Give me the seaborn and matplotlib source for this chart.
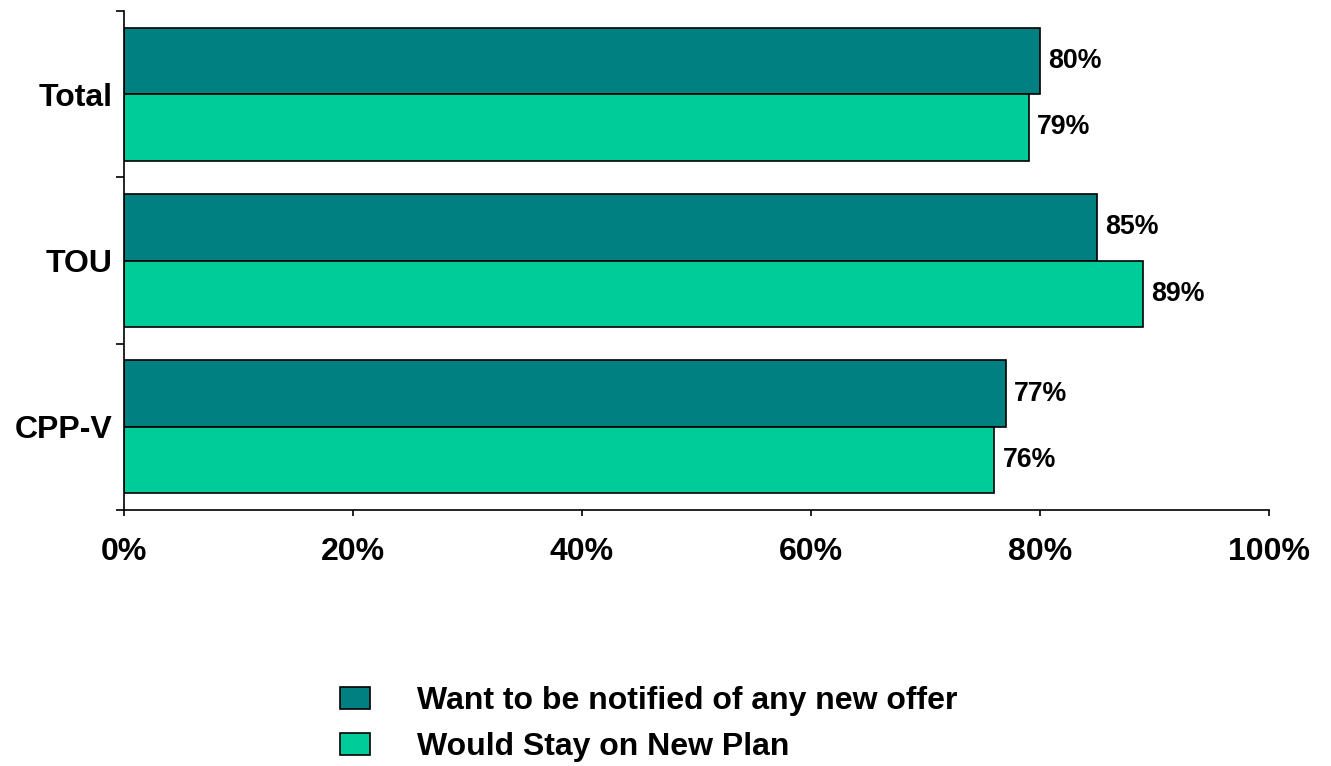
import matplotlib
matplotlib.use("Agg")
import matplotlib.pyplot as plt
import seaborn as sns
import pandas as pd
from matplotlib.ticker import FixedLocator

categories = ["Total", "TOU", "CPP-V"]
series_names = ["Want to be notified of any new offer", "Would Stay on New Plan"]
notified = [80, 85, 77]
stay = [79, 89, 76]
x_ticks = [0, 20, 40, 60, 80, 100]
colors = ["#008080", "#00CC99"]

sns.set_style("white")
plt.rcParams["font.family"] = ["Liberation Sans", "DejaVu Sans"]
plt.rcParams["font.weight"] = "bold"
plt.rcParams["text.color"] = "black"
plt.rcParams["xtick.color"] = "black"
plt.rcParams["ytick.color"] = "black"
plt.rcParams["axes.labelcolor"] = "black"

df = pd.DataFrame({
    "Segment": categories * 2,
    "Series": [series_names[0]] * 3 + [series_names[1]] * 3,
    "Value": notified + stay,
})

fig = plt.figure(figsize=(13.31, 7.66), dpi=100)
ax = fig.add_axes([124 / 1331, 1 - 510 / 766, (1269 - 124) / 1331, (510 - 11) / 766])

sns.barplot(data=df, y="Segment", x="Value", hue="Series", orient="h",
            palette=colors, saturation=1, edgecolor="black", linewidth=1.2,
            width=0.8, ax=ax)

for cont in ax.containers:
    ax.bar_label(cont, labels=[f"{v:.0f}%" for v in cont.datavalues],
                 padding=6, fontsize=19.3, fontweight="bold", color="black")

ax.set_xlim(0, 100)
ax.set_ylim(2.5, -0.5)
ax.set_xticks(x_ticks)
ax.set_xticklabels([f"{t}%" for t in x_ticks])
ax.set_xlabel("")
ax.set_ylabel("")

ax.yaxis.set_minor_locator(FixedLocator([-0.5, 0.5, 1.5, 2.5]))
ax.tick_params(axis="y", which="major", length=0, pad=8.5, labelsize=23, labelcolor="black")
ax.tick_params(axis="y", which="minor", length=6, width=1.2, color="black", direction="out", left=True)
ax.tick_params(axis="x", which="major", length=4.5, width=1.2, color="black", direction="out",
               bottom=True, pad=15, labelsize=23, labelcolor="black")
for lab in ax.get_xticklabels() + ax.get_yticklabels():
    lab.set_fontweight("bold")

for s in ["top", "right"]:
    ax.spines[s].set_visible(False)
for s in ["left", "bottom"]:
    ax.spines[s].set_color("black")
    ax.spines[s].set_linewidth(1.2)

handles, labels = ax.get_legend_handles_labels()
ax.get_legend().remove()
leg = fig.legend(handles, labels, loc="upper left",
                 bbox_to_anchor=(340 / 1331, 1 - 686 / 766),
                 frameon=False, prop={"size": 23, "weight": "bold"},
                 handlelength=0.95, handleheight=0.7, handletextpad=1.45,
                 labelspacing=0.5, borderpad=0, borderaxespad=0)
for t in leg.get_texts():
    t.set_color("black")

fig.savefig("out.png", dpi=100)
